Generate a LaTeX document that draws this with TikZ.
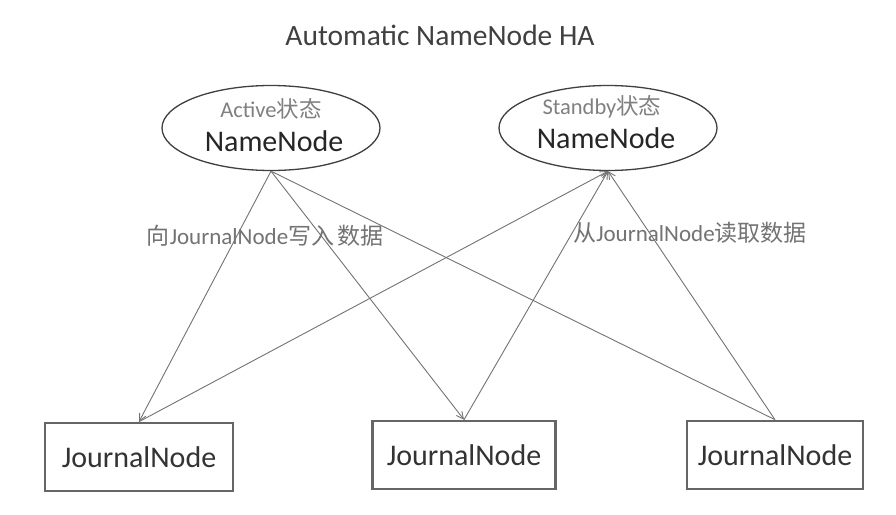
\documentclass[tikz,border=0pt]{standalone}
\usepackage{fontspec}
\setmainfont{Carlito}
\newfontfamily\cjk{Noto Sans CJK SC}
\usetikzlibrary{shapes.geometric,arrows.meta}
\begin{document}
\begin{tikzpicture}[x=1pt,y=-1pt,
  nnshape/.style={ellipse,draw=black!75,line width=1.3pt,minimum width=218pt,minimum height=85pt,inner sep=0pt},
  jnbox/.style={draw=black!60,line width=2.6pt,minimum height=68pt,inner sep=0pt,font=\fontsize{30}{36}\selectfont,text=black!80},
  bigtxt/.style={font=\fontsize{30}{36}\selectfont,text=black!85,inner sep=0pt},
  subtxt/.style={font=\fontsize{22.5}{26}\selectfont,text=black!50,inner sep=0pt},
  lbl/.style={font=\fontsize{23}{28}\selectfont,text=black!55,inner sep=0pt},
  conn/.style={draw=black!55,line width=0.9pt},
  arr/.style={conn,-{Straight Barb[length=7pt,width=7pt,line width=0.9pt]}}
]
\useasboundingbox[fill=white] (0,0) rectangle (896,514);
\node[font=\fontsize{29.5}{34}\selectfont,text=black!75,inner sep=0pt] (title) at (440,35) {Automatic NameNode HA};

\node[nnshape] (nn1) at (271,128) {};
\node[subtxt] (s1) at (271,109) {Active{\cjk 状态}};
\node[bigtxt] (t1) at (274,141) {NameNode};

\node[nnshape] (nn2) at (608,128) {};
\node[subtxt] (s2) at (602,107) {Standby{\cjk 状态}};
\node[bigtxt] (t2) at (606,138) {NameNode};

\node[jnbox,minimum width=188pt] (jn1) at (139,457) {JournalNode};
\node[jnbox,minimum width=183pt] (jn2) at (464,455) {JournalNode};
\node[jnbox,minimum width=176pt] (jn3) at (775,455) {JournalNode};

\node[lbl] (l1) at (265,236) {{\cjk 向}JournalNode{\cjk 写入\hspace{3pt}数据}};
\node[lbl] (l2) at (690,233) {{\cjk 从}JournalNode{\cjk 读取数据}};

\draw[arr] (nn1.south) -- (jn1.north);
\draw[arr] (nn1.south) -- (jn2.north);
\draw[conn] (nn1.south) -- (jn3.north);
\draw[arr] (jn1.north) -- (nn2.south);
\draw[arr] (jn2.north) -- (nn2.south);
\draw[arr] (jn3.north) -- (nn2.south);
\end{tikzpicture}
\end{document}
